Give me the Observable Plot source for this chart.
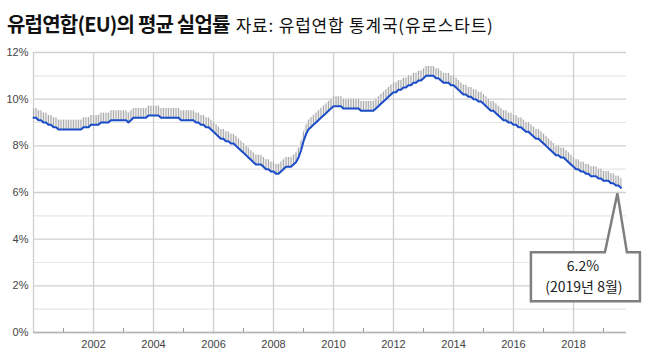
<!DOCTYPE html>
<html><head><meta charset="utf-8">
<script src="https://cdn.jsdelivr.net/npm/d3@7"></script>
<script src="https://cdn.jsdelivr.net/npm/@observablehq/plot@0.6"></script>
<style>
body{margin:0;background:#fff;}
#title{height:42px;box-sizing:border-box;padding:11px 0 0 7px;white-space:nowrap;font-family:"Noto Sans CJK KR",sans-serif;color:#111;line-height:26px;}
#title .t{font-size:20px;font-weight:bold;letter-spacing:-0.8px;}
#title .s{font-size:17px;letter-spacing:0.8px;margin-left:6px;}
</style></head><body>
<div id="title"><span class="t">유럽연합(EU)의 평균 실업률</span><span class="s">자료: 유럽연합 통계국(유로스타트)</span></div>
<div id="chart"></div>
<script>
// Monthly unemployment rate (%), EU, Jan 2000 – Aug 2019
const u2000 = [9.2, 9.2, 9.1, 9.1, 9.0, 9.0, 8.9, 8.9, 8.8, 8.8, 8.7, 8.7];
const u2001 = [8.7, 8.7, 8.7, 8.7, 8.7, 8.7, 8.7, 8.7, 8.8, 8.8, 8.8, 8.9];
const u2002 = [8.9, 8.9, 8.9, 9.0, 9.0, 9.0, 9.0, 9.1, 9.1, 9.1, 9.1, 9.1];
const u2003 = [9.1, 9.1, 9.0, 9.1, 9.2, 9.2, 9.2, 9.2, 9.2, 9.2, 9.3, 9.3];
const u2004 = [9.3, 9.3, 9.3, 9.2, 9.2, 9.2, 9.2, 9.2, 9.2, 9.2, 9.2, 9.1];
const u2005 = [9.1, 9.1, 9.1, 9.1, 9.1, 9.0, 9.0, 8.9, 8.9, 8.8, 8.8, 8.7];
const u2006 = [8.6, 8.5, 8.4, 8.3, 8.3, 8.2, 8.2, 8.1, 8.1, 8.0, 7.9, 7.8];
const u2007 = [7.7, 7.6, 7.5, 7.4, 7.3, 7.2, 7.2, 7.2, 7.1, 7.0, 7.0, 6.9];
const u2008 = [6.9, 6.8, 6.8, 6.9, 7.0, 7.1, 7.1, 7.1, 7.2, 7.3, 7.5, 7.8];
const u2009 = [8.2, 8.5, 8.7, 8.8, 8.9, 9.0, 9.1, 9.2, 9.3, 9.4, 9.5, 9.6];
const u2010 = [9.7, 9.7, 9.7, 9.7, 9.6, 9.6, 9.6, 9.6, 9.6, 9.6, 9.6, 9.5];
const u2011 = [9.5, 9.5, 9.5, 9.5, 9.5, 9.6, 9.7, 9.8, 9.9, 10.0, 10.1, 10.2];
const u2012 = [10.3, 10.3, 10.4, 10.4, 10.5, 10.5, 10.6, 10.6, 10.7, 10.7, 10.8, 10.8];
const u2013 = [10.9, 11.0, 11.0, 11.0, 11.0, 10.9, 10.9, 10.8, 10.7, 10.7, 10.7, 10.6];
const u2014 = [10.6, 10.5, 10.4, 10.3, 10.2, 10.2, 10.1, 10.1, 10.0, 10.0, 9.9, 9.9];
const u2015 = [9.8, 9.7, 9.6, 9.5, 9.5, 9.4, 9.3, 9.2, 9.1, 9.1, 9.0, 9.0];
const u2016 = [8.9, 8.9, 8.8, 8.8, 8.7, 8.6, 8.6, 8.5, 8.4, 8.3, 8.3, 8.2];
const u2017 = [8.1, 8.0, 7.9, 7.8, 7.7, 7.6, 7.6, 7.5, 7.5, 7.4, 7.3, 7.2];
const u2018 = [7.1, 7.0, 7.0, 6.9, 6.9, 6.8, 6.8, 6.7, 6.7, 6.7, 6.6, 6.6];
const u2019 = [6.5, 6.5, 6.5, 6.4, 6.4, 6.3, 6.3, 6.2];

const seriesYears = [2000,2001,2002,2003,2004,2005,2006,2007,2008,2009,2010,2011,2012,2013,2014,2015,2016,2017,2018,2019];
const seriesValues = [u2000,u2001,u2002,u2003,u2004,u2005,u2006,u2007,u2008,u2009,u2010,u2011,u2012,u2013,u2014,u2015,u2016,u2017,u2018,u2019];

const yTicks = [0, 2, 4, 6, 8, 10, 12];
const yMinor = [1, 3, 5, 7, 9, 11];
const xLabelYears = [2002, 2004, 2006, 2008, 2010, 2012, 2014, 2016, 2018];
const xGridYears = [2000, 2002, 2004, 2006, 2008, 2010, 2012, 2014, 2016, 2018];
const xMinorYears = [2001, 2003, 2005, 2007, 2009, 2011, 2013, 2015, 2017, 2019];

const data = [];
seriesYears.forEach((yr, k) => seriesValues[k].forEach((v, m) => data.push({date: new Date(Date.UTC(yr, m, 1)), value: v})));
const last = data[data.length - 1];
const yd = y => new Date(Date.UTC(y, 0, 1));
const hatch = 0.4;

const callout = (index, scales) => {
  const px = scales.x(last.date), py = scales.y(last.value);
  const g = d3.create("svg:g");
  g.append("path")
    .attr("d", `M${px-89.5},${py+65}H${px-15.5}L${px-3},${py+6}L${px+6.5},${py+65}H${px+19.5}V${py+114}H${px-89.5}Z`)
    .attr("fill", "#fff").attr("stroke", "#7f7f7f").attr("stroke-width", 2.5).attr("stroke-linejoin", "miter");
  return g.node();
};

const chart = Plot.plot({
  width: 650, height: 314,
  marginLeft: 33, marginRight: 24, marginTop: 10, marginBottom: 24,
  style: {fontFamily: "'Liberation Sans', Arial, sans-serif", fontSize: "11px", color: "#444", background: "#fff", overflow: "visible"},
  x: {type: "utc", domain: [yd(2000), new Date(Date.UTC(2019, 9, 8))], ticks: xLabelYears.map(yd), tickFormat: d => String(d.getUTCFullYear()), tickSize: 0, tickPadding: 8, label: null},
  y: {domain: [0, 12], ticks: yTicks, tickFormat: d => d + "%", tickSize: 0, tickPadding: 5, label: null},
  marks: [
    Plot.ruleY(yMinor, {stroke: "#e6e6e6", strokeWidth: 1.2}),
    Plot.ruleY(yTicks, {stroke: "#cfcfcf", strokeWidth: 1.3}),
    Plot.ruleX(xGridYears.map(yd), {stroke: "#cfcfcf", strokeWidth: 1.3}),
    Plot.ruleY([0], {stroke: "#b5b5b5", strokeWidth: 1.3}),
    Plot.ruleX(xMinorYears.map(yd), {x: d => d, y1: 0, y2: 0, insetTop: -4, stroke: "#999"}),
    Plot.areaY(data, {x: "date", y1: "value", y2: d => d.value + hatch, fill: "#ececec"}),
    Plot.ruleX(data, {x: "date", y1: "value", y2: d => d.value + hatch, stroke: "#a8a8a8", strokeWidth: 1}),
    Plot.line(data, {x: "date", y: "value", stroke: "#1a4cc8", strokeWidth: 2}),
    callout,
    Plot.text([last], {x: "date", y: "value", text: d => d.value.toFixed(1) + "%", dx: -38, dy: 79, fontFamily: "'Noto Sans CJK KR', sans-serif", fontSize: 14, fill: "#222"}),
    Plot.text([last], {x: "date", y: "value", text: d => `(${d.date.getUTCFullYear()}년 ${d.date.getUTCMonth() + 1}월)`, dx: -37, dy: 100, fontFamily: "'Noto Sans CJK KR', sans-serif", fontSize: 14, fill: "#222"})
  ]
});
document.getElementById("chart").append(chart);
</script>
</body></html>
